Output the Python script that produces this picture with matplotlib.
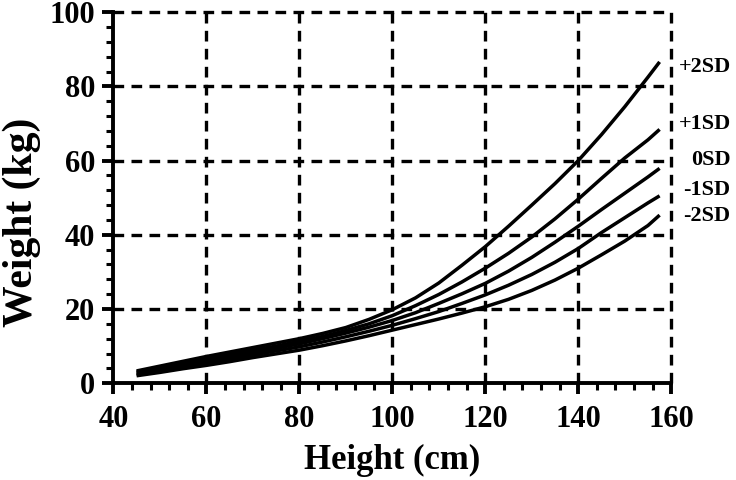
import numpy as np
import matplotlib.pyplot as plt
from matplotlib.ticker import MultipleLocator

# height (cm) and weight (kg)
height = [45, 50, 55, 60, 65, 70, 75, 80, 85, 90, 95, 100, 105, 110, 115,
          120, 125, 130, 135, 140, 145, 150, 155, 157.5]
sd_plus2 = [3.3, 4.6, 5.9, 7.2, 8.4, 9.6, 10.8, 12.0, 13.4, 15.0, 17.2, 19.8,
            23.0, 27.0, 31.8, 36.8, 42.3, 48.0, 53.8, 60.0, 67.0, 74.5, 82.5, 86.6]
sd_plus1 = [3.0, 4.2, 5.4, 6.6, 7.8, 8.9, 10.0, 11.3, 12.6, 14.2, 16.0, 18.2,
            20.9, 23.9, 27.3, 31.0, 35.0, 39.4, 44.3, 49.6, 55.2, 60.7, 65.6, 68.4]
sd_zero = [2.7, 3.8, 4.9, 6.0, 7.2, 8.3, 9.4, 10.6, 12.0, 13.5, 15.1, 16.9,
           19.0, 21.5, 24.1, 26.9, 30.2, 33.9, 38.0, 42.3, 46.8, 51.2, 55.6, 57.9]
sd_minus1 = [2.3, 3.3, 4.3, 5.4, 6.5, 7.6, 8.7, 9.8, 11.1, 12.5, 14.0, 15.6,
             17.4, 19.3, 21.5, 23.8, 26.4, 29.3, 32.6, 36.3, 40.6, 44.6, 48.6, 50.5]
sd_minus2 = [2.0, 2.9, 3.9, 4.8, 5.8, 6.9, 7.9, 8.9, 10.1, 11.4, 12.8, 14.3,
             15.8, 17.3, 18.9, 20.6, 22.6, 25.0, 27.8, 31.0, 34.6, 38.3, 42.5, 45.3]

curves = [sd_plus2, sd_plus1, sd_zero, sd_minus1, sd_minus2]
curve_labels = ['+2SD', '+1SD', '0SD', '-1SD', '-2SD']
label_y = [85.3, 69.8, 60.1, 52.0, 45.0]

x_ticks = [40, 60, 80, 100, 120, 140, 160]
y_ticks = [0, 20, 40, 60, 80, 100]

plt.rcParams['font.family'] = 'Liberation Serif'
plt.rcParams['font.weight'] = 'bold'

fig = plt.figure(figsize=(7.36, 4.8), dpi=100)
ax = fig.add_axes([0.154, 0.2017, 0.758, 0.7729])

# dashed grid, including the top and right border lines
for xv in x_ticks[1:]:
    ax.axvline(xv, color='black', lw=2.4, ls=(0, (3.2, 2.2)), clip_on=False, zorder=1)
for yv in y_ticks[1:]:
    ax.axhline(yv, color='black', lw=2.4, ls=(0, (3.2, 2.2)), clip_on=False, zorder=1)

for vals in curves:
    ax.plot(height, vals, color='black', lw=2.5, solid_capstyle='butt', zorder=3)

for lab, ly in zip(curve_labels, label_y):
    ax.text(172.8, ly, lab, ha='right', va='center', fontsize=16,
            fontweight='bold', clip_on=False)

ax.set_xlim(40, 160)
ax.set_ylim(0, 100)
ax.set_xticks(x_ticks)
ax.set_yticks(y_ticks)
ax.xaxis.set_minor_locator(MultipleLocator(4))
ax.yaxis.set_minor_locator(MultipleLocator(4))

for side in ['top', 'right']:
    ax.spines[side].set_visible(False)
for side in ['left', 'bottom']:
    ax.spines[side].set_linewidth(2.8)

ax.tick_params(which='major', length=8, width=2.8, labelsize=22, pad=5)
ax.tick_params(axis='x', which='major', pad=8)
ax.tick_params(which='minor', length=5, width=2.2)

ax.set_xlabel('Height (cm)', fontsize=25, fontweight='bold', labelpad=7)
# y label sits a bit below the axes centre in the reference
fig.text(22 / 736, 1 - 222 / 480, 'Weight (kg)', rotation=90, ha='center',
         va='center', fontsize=30, fontweight='bold')

fig.savefig('out.png', dpi=100)
